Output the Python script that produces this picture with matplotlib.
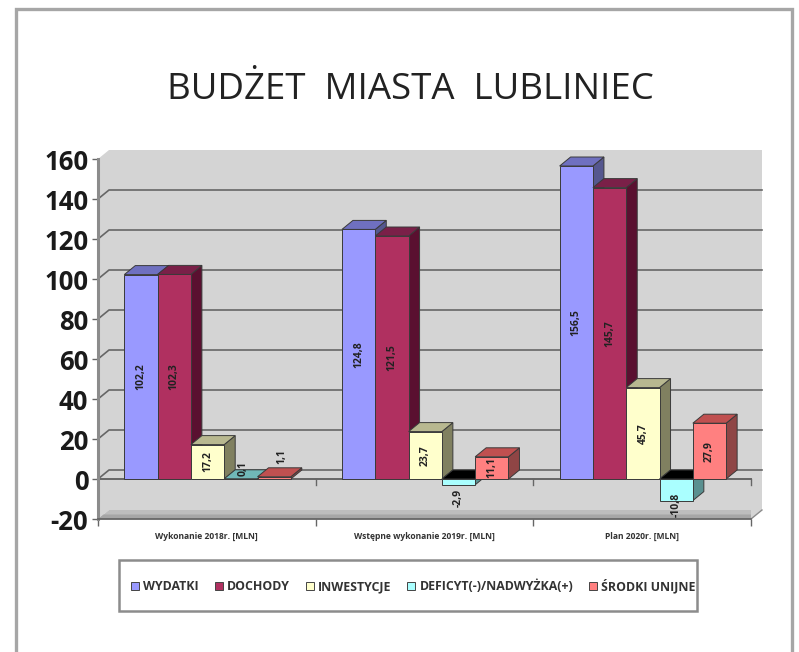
import numpy as np
import matplotlib
matplotlib.use('Agg')
import matplotlib.pyplot as plt
from matplotlib.patches import Patch, Rectangle

plt.rcParams['font.family'] = ['Open Sans', 'DejaVu Sans']

# dane
title = "BUDŻET  MIASTA  LUBLINIEC"
categories = ["Wykonanie 2018r. [MLN]", "Wstępne wykonanie 2019r. [MLN]", "Plan 2020r. [MLN]"]
series_names = ["WYDATKI", "DOCHODY", "INWESTYCJE", "DEFICYT(-)/NADWYŻKA(+)", "ŚRODKI UNIJNE"]
wydatki = [102.2, 124.8, 156.5]
dochody = [102.3, 121.5, 145.7]
inwestycje = [17.2, 23.7, 45.7]
deficyt = [0.1, -2.9, -10.8]
srodki = [1.1, 11.1, 27.9]
y_ticks = [-20, 0, 20, 40, 60, 80, 100, 120, 140, 160]

series = [wydatki, dochody, inwestycje, deficyt, srodki]
# kolory: przód, góra, bok
front = ['#9999FF', '#B03060', '#FFFFCC', '#AAFFFF', '#FF8080']
top = ['#6F70C0', '#7A2048', '#B8B890', '#70B8B8', '#C05050']
side = ['#55578F', '#5A1030', '#808060', '#5A9090', '#8F4545']

W, H = 799, 652
fig = plt.figure(figsize=(W / 100, H / 100), dpi=100)
fig.add_artist(Rectangle((15.5 / W, -0.02), 776 / W, 1 - 9.5 / H + 0.02, transform=fig.transFigure,
                         fill=False, ec='#A6A6A6', lw=2.4))

# osie = przednia płaszczyzna wykresu 3D
ax_l, ax_r, ax_t, ax_b = 98, 751, 159, 519
ax = fig.add_axes([ax_l / W, 1 - ax_b / H, (ax_r - ax_l) / W, (ax_b - ax_t) / H])
ax.set_xlim(0, 3)
ax.set_ylim(-20, 160)
ax.patch.set_visible(False)

dx = 11 / ((ax_r - ax_l) / 3)
dy = 9 / ((ax_b - ax_t) / 180)

# ściany i podłoga
wall = '#D4D4D4'
ax.fill([dx, 3 + dx, 3 + dx, dx], [-20 + dy, -20 + dy, 160 + dy, 160 + dy], color=wall, lw=0, zorder=1, clip_on=False)
ax.fill([0, dx, dx, 0], [-20, -20 + dy, 160 + dy, 160], color=wall, lw=0, zorder=1, clip_on=False)
ax.fill([0, dx, 3 + dx, 3], [-20, -20 + dy, -20 + dy, -20], color='#BDBDBD', lw=0, zorder=1, clip_on=False)
ax.fill([0, dx * 0.5, 3 + dx * 0.5, 3], [-20, -20 + dy * 0.5, -20 + dy * 0.5, -20], color='#A6A6A6', lw=0, zorder=1, clip_on=False)
ax.fill([0, 3, 3 + dx, dx], [0, 0, dy, dy], color=wall, lw=0, zorder=1, clip_on=False)
ax.fill([3, 3 + dx, 3 + dx, 3], [-20, -20 + dy, dy, 0], color=wall, lw=0, zorder=1, clip_on=False)
ax.plot([3, 3 + dx], [-20, -20 + dy], color='#8C8C8C', lw=1, zorder=2, clip_on=False)

# siatka
for v in y_ticks[1:-1]:
    ax.plot([0, dx, 3 + dx], [v, v + dy, v + dy], color='#666666', lw=1.2, zorder=2, clip_on=False)
ax.plot([0, 3], [0, 0], color='#666666', lw=1.4, zorder=3, clip_on=False)
for x in [1, 2, 3]:
    ax.plot([x, x], [0, -3], color='#666666', lw=1, zorder=3, clip_on=False)

# słupki
px_x = (ax_r - ax_l) / 3
bw = 33.3 / px_x
start = 26.3 / px_x
z = 10
edge = '#3A3A3A'
for i in range(len(categories)):
    for s, vals in enumerate(series):
        v = vals[i]
        x0 = i + start + s * bw
        x1 = x0 + bw
        if v >= 0:
            ax.fill([x1, x1 + dx, x1 + dx, x1], [0, dy, v + dy, v], fc=side[s], ec=edge, lw=0.7, zorder=z, clip_on=False)
            ax.fill([x0, x1, x1 + dx, x0 + dx], [v, v, v + dy, v + dy], fc=top[s], ec=edge, lw=0.7, zorder=z, clip_on=False)
        else:
            ax.fill([x1, x1 + dx, x1 + dx, x1], [v, v + dy, dy, 0], fc=side[s], ec=edge, lw=0.7, zorder=z, clip_on=False)
            ax.fill([x0, x1, x1 + dx, x0 + dx], [0, 0, dy, dy], fc='black', ec=edge, lw=0.7, zorder=z, clip_on=False)
        ax.bar(x0, v, width=bw, align='edge', color=front[s], ec=edge, lw=0.7, zorder=z, clip_on=False)
        z += 1

# etykiety wartości
for i in range(len(categories)):
    for s, vals in enumerate(series):
        v = vals[i]
        x = i + start + (s + 0.5) * bw
        if v < 0:
            y = v * 0.45 - 8.2
        elif v < 1:
            y = 5.5
            x += dx * 0.25
        elif v < 2:
            y = 11
            x += dx * 0.7
        else:
            y = v / 2
        label = f"{v:.1f}".replace('.', ',')
        ax.text(x, y, label, rotation=90, ha='center', va='center', fontsize=7.5,
                fontweight='bold', color='#222222', zorder=100, clip_on=False)

# osie
for name in ['top', 'right']:
    ax.spines[name].set_visible(False)
ax.spines['left'].set_color('#8C8C8C')
ax.spines['left'].set_linewidth(2.2)
ax.spines['bottom'].set_color('#666666')
ax.spines['bottom'].set_linewidth(1.3)
for sp in ax.spines.values():
    sp.set_zorder(5)
ax.set_yticks(y_ticks)
ax.set_yticklabels([str(v) for v in y_ticks], fontsize=18.5, fontweight='bold', color='#1A1A1A')
ax.tick_params(axis='y', length=4.5, width=1, color='#666666', pad=2.5)
ax.set_xticks([0.5, 1.5, 2.5])
ax.set_xticklabels(categories, fontsize=6.1, fontweight='bold', color='#333333')
ax.tick_params(axis='x', which='major', length=0, pad=9)
ax.set_xticks([0, 1, 2, 3], minor=True)
ax.tick_params(axis='x', which='minor', length=5, width=1, color='#666666')

fig.text(410 / W, 1 - 90 / H, title, ha='center', va='center', fontsize=26.4, color='#222222')

# legenda
fig.add_artist(Rectangle((119 / W, 1 - 611 / H), 578 / W, 51 / H, transform=fig.transFigure,
                         fill=False, ec='#8C8C8C', lw=1.8))
handles = [Patch(facecolor=c, edgecolor='#444444', lw=0.7) for c in front]
leg = fig.legend(handles, series_names, loc='center', bbox_to_anchor=(413.5 / W, 1 - 586 / H), ncol=5,
                 frameon=False, prop={'size': 8.9, 'weight': 'bold'}, handlelength=0.65, handleheight=0.65,
                 handletextpad=0.32, columnspacing=1.3, borderpad=0, borderaxespad=0)
for t in leg.get_texts():
    t.set_color('#333333')

fig.savefig('out.png', dpi=100)
